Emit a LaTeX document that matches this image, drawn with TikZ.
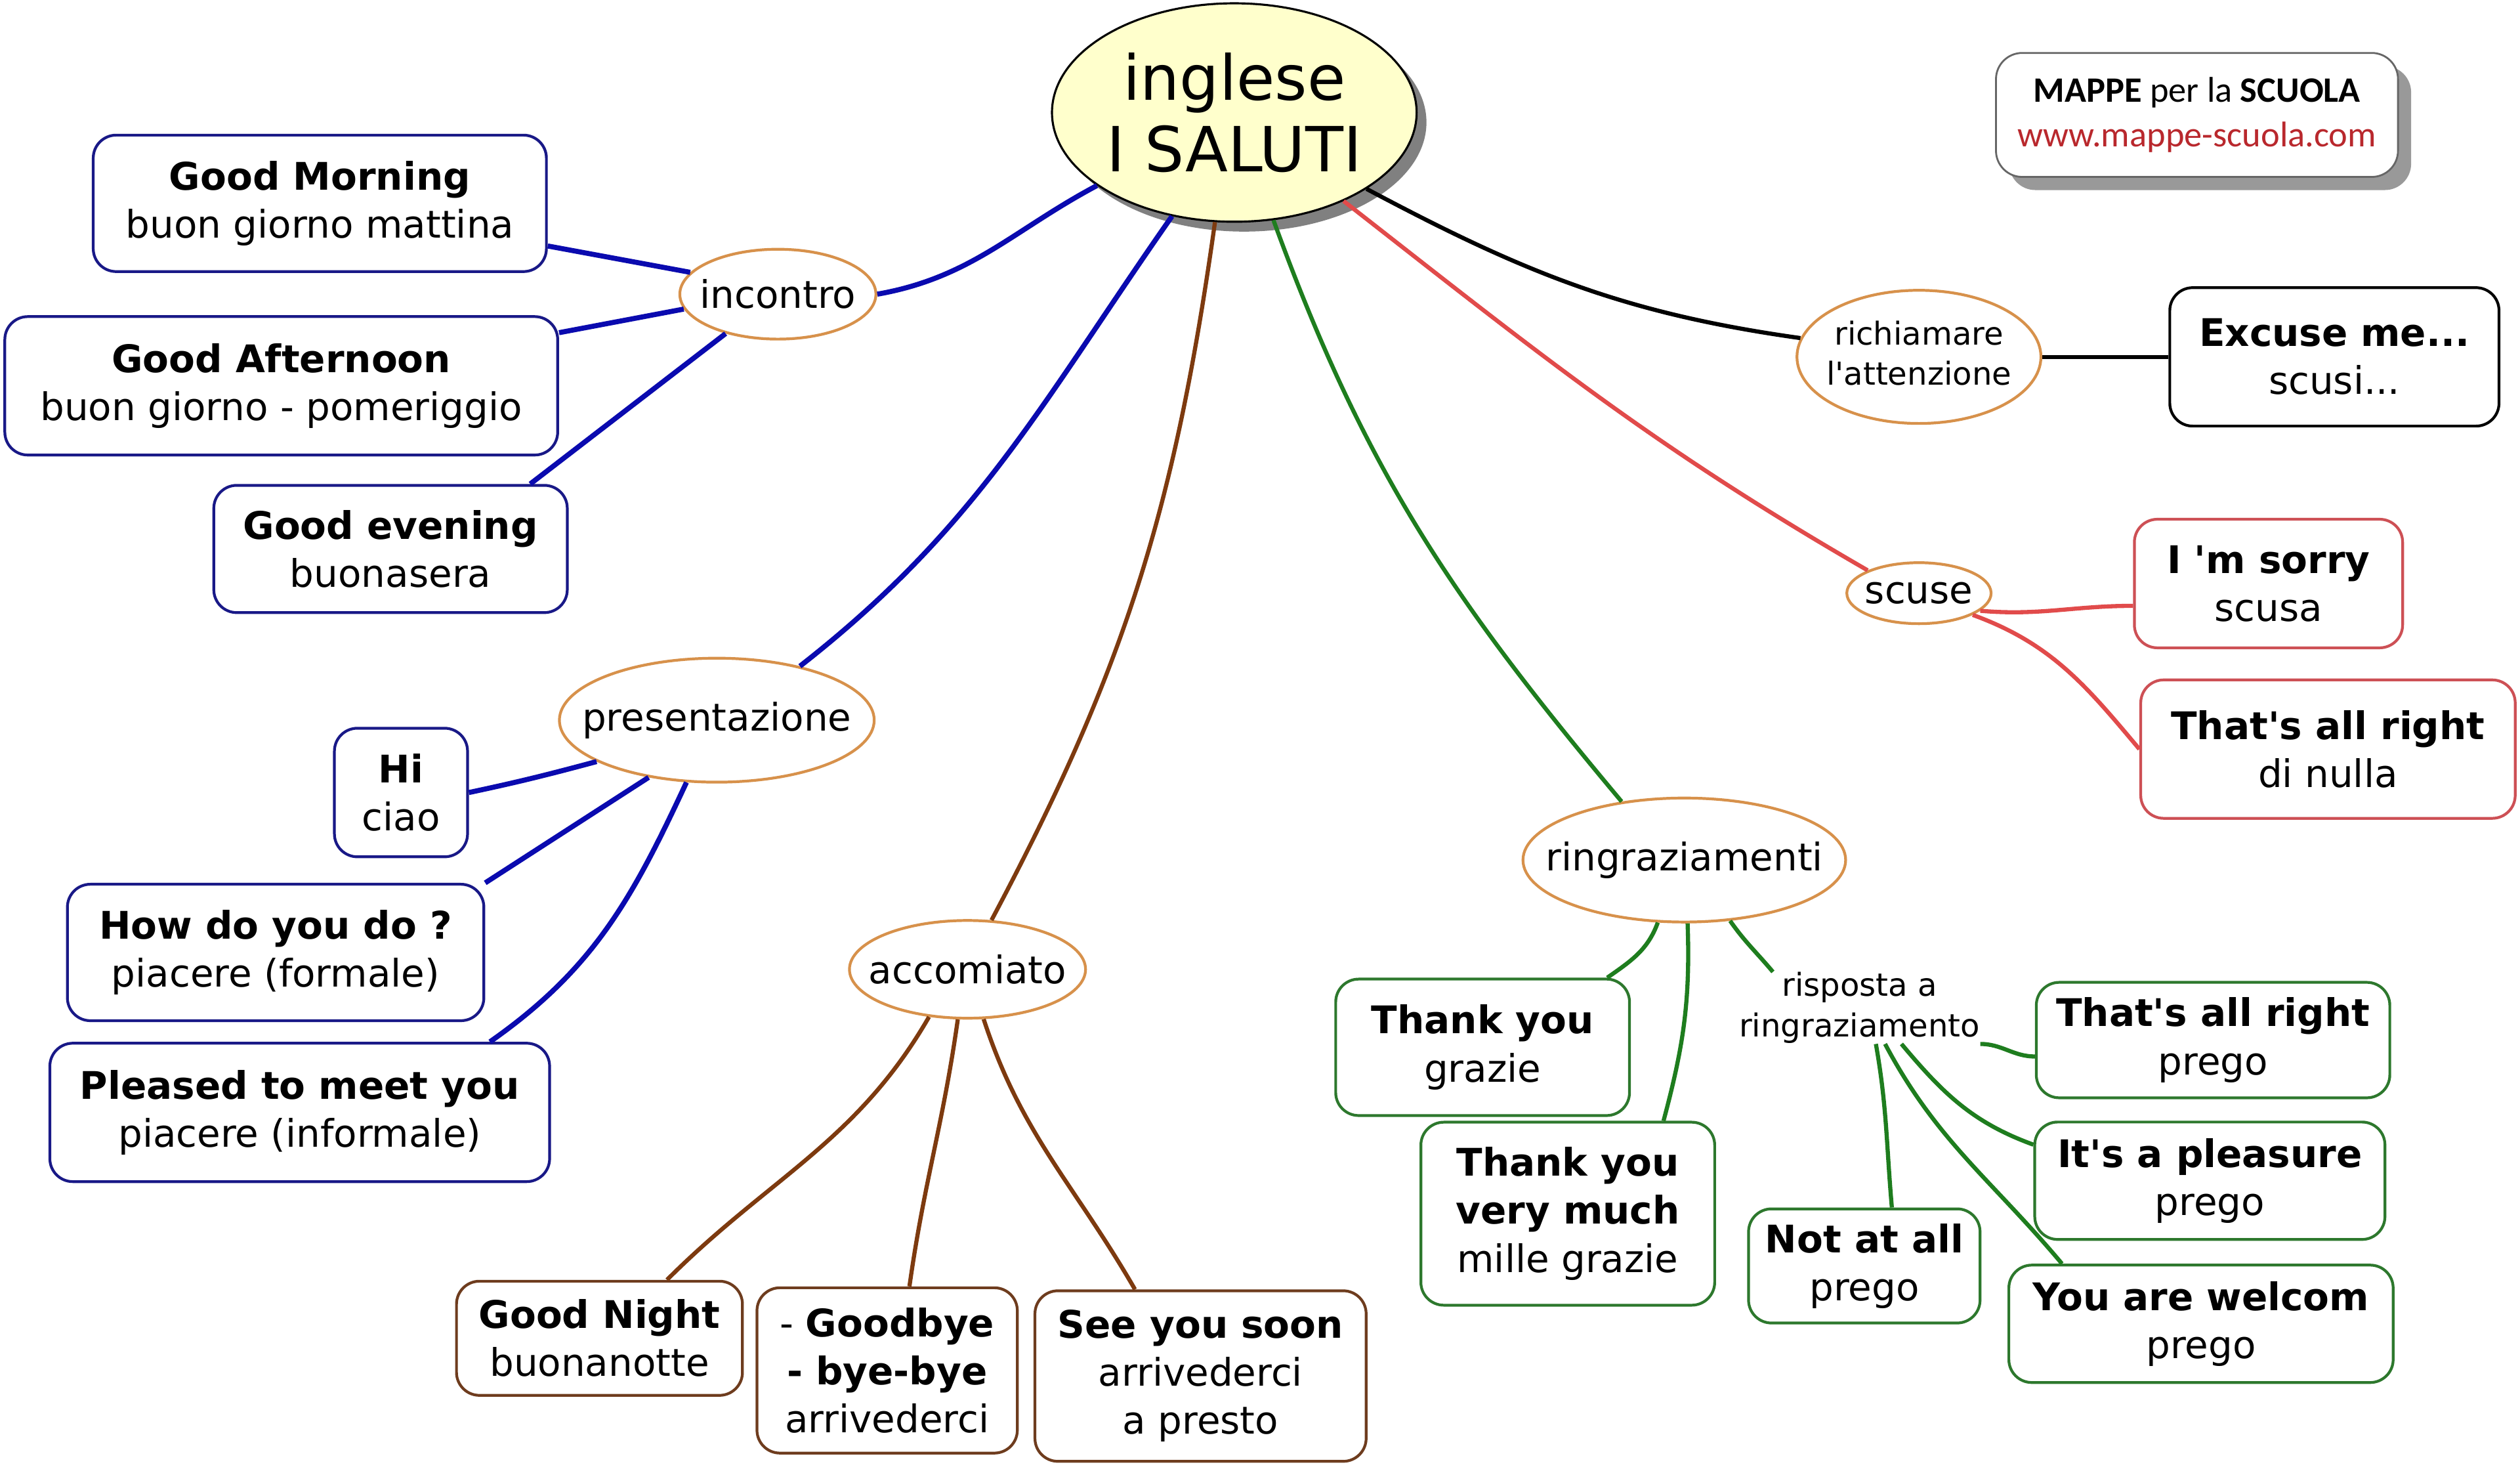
\documentclass[tikz,border=0pt]{standalone}
\usepackage{fontspec}
\setmainfont{DejaVu Sans}[Ligatures=TeXOff]
\newfontfamily\logofont{Carlito}
\usetikzlibrary{shapes.geometric,shadows}
\definecolor{blueL}{RGB}{10,10,175}
\definecolor{blueB}{RGB}{25,25,135}
\definecolor{brownL}{RGB}{125,58,15}
\definecolor{brownB}{RGB}{110,60,30}
\definecolor{greenL}{RGB}{30,125,30}
\definecolor{greenB}{RGB}{45,120,45}
\definecolor{redL}{RGB}{225,75,75}
\definecolor{redB}{RGB}{205,80,85}
\definecolor{ovalc}{RGB}{215,145,75}
\definecolor{mainfill}{RGB}{255,255,204}
\definecolor{urlred}{RGB}{185,40,45}
\newcommand\zw[1]{\makebox[0pt][c]{#1}}
\begin{document}
\begin{tikzpicture}[x=0.0245cm,y=-0.0245cm,
  box/.style={draw, rounded corners=0.35cm, line width=1.2pt, fill=white, align=center,
    font=\fontsize{16.5}{20.8}\selectfont, inner sep=0pt},
  oval/.style={ellipse, draw=ovalc, line width=1.2pt, fill=white, inner sep=0pt,
    font=\fontsize{16.5}{20}\selectfont},
  small/.style={align=center, inner sep=0pt, font=\fontsize{13.7}{17.6}\selectfont},
  bl/.style={draw=blueL, line width=2.2pt},
  br/.style={draw=brownL, line width=1.8pt},
  gr/.style={draw=greenL, line width=1.8pt},
  rd/.style={draw=redL, line width=1.8pt},
  bk/.style={draw=black, line width=1.8pt},
]
\fill[white] (0,0) rectangle (1568,915);
\useasboundingbox (0,0) rectangle (1568,915);

% central
\node[ellipse, draw=black, line width=0.9pt, fill=mainfill, minimum width=5.56cm, minimum height=3.33cm,
  inner sep=0pt, align=center, font=\fontsize{27}{31}\selectfont,
  drop shadow={shadow xshift=0.15cm, shadow yshift=-0.15cm, fill=black!50, opacity=1}]
  (main) at (768,70) {inglese\\I SALUTI};

% logo
\node[draw=black!60, rounded corners=0.4cm, fill=white, line width=0.8pt, minimum width=6.13cm,
  minimum height=1.89cm, align=center, inner sep=0pt, font=\logofont\fontsize{15.5}{19.5}\selectfont,
  drop shadow={shadow xshift=0.2cm, shadow yshift=-0.2cm, fill=black!40, opacity=1}]
  (logo) at (1367,71.5) {\textbf{MAPPE} per la \textbf{SCUOLA}\\\textcolor{urlred}{www.mappe-scuola.com}};

% incontro
\node[oval, minimum width=2.99cm, minimum height=1.37cm] (inc) at (484,183) {\zw{incontro}};
\node[box, draw=blueB, minimum width=6.91cm, minimum height=2.08cm] (gm) at (199,126.5) {\textbf{Good Morning}\\buon giorno mattina};
\node[box, draw=blueB, minimum width=8.43cm, minimum height=2.11cm] (ga) at (175,240) {\textbf{Good Afternoon}\\buon giorno - pomeriggio};
\node[box, draw=blueB, minimum width=5.39cm, minimum height=1.94cm] (ge) at (243,341.5) {\textbf{Good evening}\\buonasera};

% presentazione
\node[oval, minimum width=4.8cm, minimum height=1.89cm] (pres) at (446,448) {\zw{presentazione}};
\node[box, draw=blueB, minimum width=2.03cm, minimum height=1.96cm] (hi) at (249.5,493) {\textbf{Hi}\\ciao};
\node[box, draw=blueB, minimum width=6.35cm, minimum height=2.08cm] (hdyd) at (171.5,592.5) {\textbf{How do you do ?}\\piacere (formale)};
\node[box, draw=blueB, minimum width=7.62cm, minimum height=2.11cm] (pl) at (186.5,692) {\textbf{Pleased to meet you}\\piacere (informale)};

% accomiato
\node[oval, minimum width=3.6cm, minimum height=1.49cm] (acc) at (602,603) {\zw{accomiato}};
\node[box, draw=brownB, minimum width=4.36cm, minimum height=1.74cm] (gn) at (373,832.5) {\textbf{Good Night}\\buonanotte};
\node[box, draw=brownB, minimum width=3.97cm, minimum height=2.52cm] (gb) at (552,852.5) {- \textbf{Goodbye}\\\textbf{- bye-bye}\\arrivederci};
\node[box, draw=brownB, minimum width=5.05cm, minimum height=2.6cm] (sys) at (747,856) {\textbf{See you soon}\\arrivederci\\a presto};

% ringraziamenti
\node[oval, minimum width=4.92cm, minimum height=1.89cm] (ring) at (1048,535) {\zw{ringraziamenti}};
\node[box, draw=greenB, minimum width=4.48cm, minimum height=2.08cm] (ty) at (922.5,651.5) {\textbf{Thank you}\\grazie};
\node[box, draw=greenB, minimum width=4.48cm, minimum height=2.79cm] (tyvm) at (975.5,755) {\textbf{Thank you}\\\textbf{very much}\\mille grazie};
\node[small] (rsp) at (1157,627) {risposta a\\ringraziamento};
\node[box, draw=greenB, minimum width=3.53cm, minimum height=1.74cm] (naa) at (1160,787.5) {\textbf{Not at all}\\prego};
\node[box, draw=greenB, minimum width=5.39cm, minimum height=1.76cm] (tar2) at (1377,647) {\textbf{That's all right}\\prego};
\node[box, draw=greenB, minimum width=5.34cm, minimum height=1.79cm] (iap) at (1375,734.5) {\textbf{It's a pleasure}\\prego};
\node[box, draw=greenB, minimum width=5.86cm, minimum height=1.79cm] (yaw) at (1369.5,823.5) {\textbf{You are welcom}\\prego};

% scuse
\node[oval, minimum width=2.2cm, minimum height=0.93cm] (scuse) at (1194,369) {\zw{scuse}};
\node[box, draw=redB, minimum width=4.09cm, minimum height=1.96cm] (ims) at (1411.5,363) {\textbf{I 'm sorry}\\scusa};
\node[box, draw=redB, minimum width=5.71cm, minimum height=2.11cm] (tar1) at (1448.5,466) {\textbf{That's all right}\\di nulla};

% richiamare
\node[oval, font=\fontsize{13.7}{17.6}\selectfont, minimum width=3.72cm, minimum height=2.03cm] (rich) at (1194,222)
  {\zw{\begin{tabular}{@{}c@{}}richiamare\\l'attenzione\end{tabular}}};
\node[box, draw=black, minimum width=5.02cm, minimum height=2.11cm] (em) at (1452.5,222) {\textbf{Excuse me...}\\scusi...};

% connectors blue
\path[bl] (inc.east) to[out=10,in=208] (main.208);
\path[bl] ([yshift=-0.65cm]gm.east) -- (inc.166);
\path[bl] ([yshift=0.81cm]ga.east) -- (inc.189);
\path[bl] ([xshift=2.13cm]ge.north) -- (inc.217);
\path[bl] (pres.33) to[out=38,in=235] (main.239);
\path[bl] (hi.east) to[out=12,in=195] (pres.199);
\path[bl] (hdyd.north east) -- (pres.220);
\path[bl] ([xshift=2.9cm]pl.north) to[out=35,in=245] (pres.244);

% brown
\path[br] (acc.64) to[out=62,in=262] (main.260);
\path[br] (acc.231) to[out=240,in=45] ([xshift=1.03cm]gn.north);
\path[br] (acc.259) to[out=262,in=82] ([xshift=0.34cm]gb.north);
\path[br] (acc.288) to[out=288,in=120] ([xshift=-1.0cm]sys.north);

% green
\path[gr] (ring.137) to[out=130,in=290] (main.290);
\path[gr] (ring.247) to[out=250,in=35] ([xshift=1.9cm]ty.north);
\path[gr] (ring.273) to[out=272,in=75] ([xshift=1.46cm]tyvm.north);
\path[gr] (ring.307) to[out=-55,in=130] ([xshift=-1.32cm]rsp.north);
\path[gr] (rsp.south east) to[out=0,in=180] ([yshift=-0.25cm]tar2.west);
\path[gr] ([xshift=0.64cm]rsp.south) to[out=-50,in=160] ([yshift=0.55cm]iap.west);
\path[gr] ([xshift=0.39cm]rsp.south) to[out=-62,in=130] ([xshift=-2.12cm]yaw.north);
\path[gr] ([xshift=0.25cm]rsp.south) to[out=-80,in=95] ([xshift=0.42cm]naa.north);

% red
\path[rd] (main.321) to[out=-38,in=150] (scuse.156);
\path[rd] (scuse.344) to[out=-5,in=180] ([yshift=-0.34cm]ims.west);
\path[rd] (scuse.338) to[out=-20,in=130] (tar1.west);

% black
\path[bk] (main.330) to[out=-28,in=172] (rich.171);
\path[bk] (rich.east) -- (em.west);
\end{tikzpicture}
\end{document}
